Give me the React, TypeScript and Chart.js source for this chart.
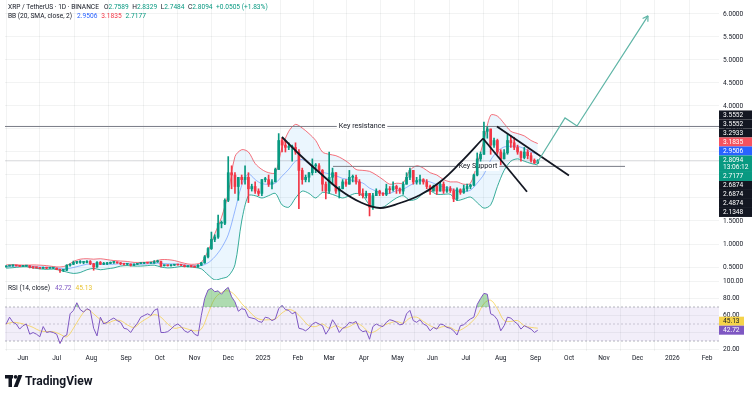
import React, { useEffect, useRef } from "react";
import { Chart, registerables } from "chart.js";

Chart.register(...registerables);

const FONT = "Roboto, 'Noto Sans', 'DejaVu Sans', sans-serif";
const FS = 6.6;
const TEXT = "#131722";
const UP = "#089981";
const DOWN = "#f23645";
const BLUE = "#2962ff";
const PURPLE = "#7e57c2";
const YELLOW = "#f5d34a";

// ---------- time ----------
const ORIGIN = "2024-06-01";
const dayOf = (iso: string) =>
  (Date.parse(iso + "T00:00:00Z") - Date.parse(ORIGIN + "T00:00:00Z")) / 86400000;

const VIEW_START_DAY = -16.05;
const VIEW_END_DAY = 620.6;

const monthTickDates = [
  "2024-06-01", "2024-07-01", "2024-08-01", "2024-09-01", "2024-10-01", "2024-11-01", "2024-12-01",
  "2025-01-01", "2025-02-01", "2025-03-01", "2025-04-01", "2025-05-01", "2025-06-01", "2025-07-01",
  "2025-08-01", "2025-09-01", "2025-10-01", "2025-11-01", "2025-12-01", "2026-01-01", "2026-02-01",
];
const monthTickLabels = [
  "Jun", "Jul", "Aug", "Sep", "Oct", "Nov", "Dec", "2025", "Feb", "Mar", "Apr", "May", "Jun", "Jul",
  "Aug", "Sep", "Oct", "Nov", "Dec", "2026", "Feb",
];

// ---------- candles (3-day) ----------
const CANDLE_START = "2024-05-17";
const CANDLE_STEP_DAYS = 3;
const opens = [
  0.50, 0.52, 0.53, 0.53, 0.525, 0.515, 0.52, 0.525, 0.495, 0.49,
  0.485, 0.47, 0.49, 0.475, 0.475, 0.475, 0.445, 0.43, 0.43, 0.54,
  0.56, 0.60, 0.60, 0.60, 0.60, 0.62, 0.57, 0.50, 0.60, 0.56,
  0.57, 0.58, 0.60, 0.60, 0.59, 0.57, 0.56, 0.56, 0.54, 0.56,
  0.575, 0.58, 0.59, 0.585, 0.585, 0.61, 0.62, 0.53, 0.535, 0.53,
  0.54, 0.55, 0.545, 0.54, 0.51, 0.52, 0.51, 0.50, 0.54, 0.59,
  0.72, 0.90, 1.10, 1.15, 1.45, 1.45, 1.95, 2.55, 2.50, 2.25,
  2.45, 2.40, 2.45, 2.20, 2.25, 2.15, 2.10, 2.40, 2.40, 2.30,
  2.35, 2.62, 3.25, 3.15, 3.10, 3.10, 3.10, 3.00, 2.60, 2.40,
  2.45, 2.55, 2.70, 2.70, 2.60, 2.30, 2.15, 2.45, 2.55, 2.15,
  2.20, 2.35, 2.30, 2.45, 2.45, 2.35, 2.10, 2.05, 2.10, 1.80,
  2.05, 2.15, 2.10, 2.08, 2.20, 2.18, 2.25, 2.20, 2.15, 2.30,
  2.45, 2.60, 2.35, 2.38, 2.40, 2.35, 2.25, 2.15, 2.25, 2.15,
  2.30, 2.15, 2.20, 2.16, 1.98, 2.18, 2.12, 2.20, 2.25, 2.28,
  2.50, 2.85, 2.95, 3.45, 3.50, 3.15, 3.25, 3.00, 2.85, 2.98,
  3.25, 3.20, 3.10, 3.00, 2.88, 3.00, 2.92, 2.82, 2.7589,
];
const highs = [
  0.53, 0.54, 0.535, 0.535, 0.53, 0.53, 0.53, 0.53, 0.50, 0.495,
  0.49, 0.50, 0.495, 0.485, 0.48, 0.48, 0.45, 0.44, 0.55, 0.57,
  0.63, 0.62, 0.64, 0.62, 0.64, 0.64, 0.58, 0.62, 0.62, 0.60,
  0.60, 0.61, 0.62, 0.61, 0.60, 0.58, 0.57, 0.57, 0.57, 0.58,
  0.59, 0.60, 0.60, 0.60, 0.64, 0.65, 0.63, 0.54, 0.54, 0.545,
  0.55, 0.555, 0.55, 0.545, 0.52, 0.53, 0.52, 0.55, 0.60, 0.75,
  0.92, 1.26, 1.20, 1.63, 1.50, 1.98, 2.90, 2.70, 2.55, 2.40,
  2.50, 2.70, 2.55, 2.30, 2.35, 2.20, 2.40, 2.45, 2.50, 2.40,
  2.65, 3.40, 3.30, 3.25, 3.20, 3.15, 3.20, 3.05, 2.65, 2.50,
  2.55, 2.85, 2.75, 2.75, 2.62, 2.35, 3.00, 2.65, 2.55, 2.25,
  2.40, 2.40, 2.60, 2.50, 2.50, 2.40, 2.20, 2.15, 2.10, 2.10,
  2.20, 2.17, 2.12, 2.30, 2.25, 2.35, 2.28, 2.22, 2.35, 2.55,
  2.65, 2.60, 2.45, 2.50, 2.42, 2.40, 2.28, 2.28, 2.28, 2.35,
  2.35, 2.25, 2.25, 2.20, 2.22, 2.20, 2.28, 2.30, 2.30, 2.52,
  2.98, 3.00, 3.65, 3.55, 3.50, 3.30, 3.28, 3.05, 3.05, 3.38,
  3.35, 3.32, 3.15, 3.02, 3.10, 3.05, 2.98, 2.85, 2.8329,
];
const lows = [
  0.50, 0.52, 0.51, 0.52, 0.51, 0.51, 0.515, 0.48, 0.47, 0.47,
  0.46, 0.47, 0.46, 0.47, 0.465, 0.44, 0.38, 0.40, 0.42, 0.52,
  0.55, 0.57, 0.58, 0.57, 0.59, 0.55, 0.43, 0.49, 0.55, 0.55,
  0.55, 0.57, 0.58, 0.58, 0.55, 0.54, 0.54, 0.52, 0.53, 0.55,
  0.57, 0.57, 0.58, 0.58, 0.58, 0.60, 0.50, 0.52, 0.52, 0.52,
  0.53, 0.54, 0.53, 0.50, 0.50, 0.50, 0.49, 0.49, 0.53, 0.58,
  0.70, 0.88, 1.05, 1.12, 1.35, 1.42, 1.92, 2.20, 2.10, 1.95,
  2.30, 2.30, 1.90, 2.15, 2.10, 2.05, 2.05, 2.35, 2.25, 2.20,
  2.35, 2.62, 3.00, 3.00, 3.05, 2.80, 2.95, 1.77, 2.30, 2.35,
  2.35, 2.50, 2.55, 2.55, 2.15, 1.98, 2.10, 2.30, 2.10, 2.00,
  2.20, 2.25, 2.30, 2.35, 2.30, 2.05, 2.00, 2.00, 1.61, 1.75,
  2.05, 2.05, 2.05, 2.05, 2.10, 2.15, 2.10, 2.10, 2.08, 2.30,
  2.40, 2.30, 2.30, 2.30, 2.30, 2.20, 2.08, 2.15, 2.08, 2.15,
  2.10, 2.12, 2.12, 1.92, 1.95, 2.08, 2.10, 2.15, 2.20, 2.26,
  2.48, 2.80, 2.95, 3.30, 2.95, 3.10, 2.95, 2.72, 2.85, 2.95,
  3.10, 3.05, 2.95, 2.80, 2.85, 2.85, 2.78, 2.75, 2.7484,
];
const closes = [
  0.52, 0.53, 0.53, 0.525, 0.515, 0.52, 0.525, 0.495, 0.49, 0.485,
  0.47, 0.49, 0.475, 0.475, 0.475, 0.445, 0.43, 0.43, 0.54, 0.56,
  0.60, 0.60, 0.60, 0.60, 0.62, 0.57, 0.50, 0.60, 0.56, 0.57,
  0.58, 0.60, 0.60, 0.59, 0.57, 0.56, 0.56, 0.54, 0.56, 0.575,
  0.58, 0.59, 0.585, 0.585, 0.61, 0.62, 0.53, 0.535, 0.53, 0.54,
  0.55, 0.545, 0.54, 0.51, 0.52, 0.51, 0.50, 0.54, 0.59, 0.72,
  0.90, 1.10, 1.15, 1.45, 1.45, 1.95, 2.55, 2.50, 2.25, 2.45,
  2.40, 2.45, 2.20, 2.25, 2.15, 2.10, 2.40, 2.40, 2.30, 2.35,
  2.62, 3.25, 3.15, 3.10, 3.10, 3.10, 3.00, 2.60, 2.40, 2.45,
  2.55, 2.70, 2.70, 2.60, 2.30, 2.15, 2.45, 2.55, 2.15, 2.20,
  2.35, 2.30, 2.45, 2.45, 2.35, 2.10, 2.05, 2.10, 1.80, 2.05,
  2.15, 2.10, 2.08, 2.20, 2.18, 2.25, 2.20, 2.15, 2.30, 2.45,
  2.60, 2.35, 2.38, 2.40, 2.35, 2.25, 2.15, 2.25, 2.15, 2.30,
  2.15, 2.20, 2.16, 1.98, 2.18, 2.12, 2.20, 2.25, 2.28, 2.50,
  2.85, 2.95, 3.45, 3.50, 3.15, 3.25, 3.00, 2.85, 2.98, 3.25,
  3.20, 3.10, 3.00, 2.88, 3.00, 2.92, 2.82, 2.76, 2.8094,
];
const priceChange = "+0.0505 (+1.83%)";

// ---------- Bollinger Bands (sampled every 6 days) ----------
const BB_START = "2024-05-17";
const BB_STEP_DAYS = 6;
const bbUpper = [
  0.545, 0.55, 0.545, 0.54, 0.545, 0.54, 0.53, 0.51, 0.50, 0.53,
  0.62, 0.67, 0.68, 0.67, 0.68, 0.66, 0.64, 0.63, 0.62, 0.60,
  0.60, 0.605, 0.62, 0.66, 0.66, 0.64, 0.60, 0.565, 0.56, 0.60,
  0.85, 1.22, 1.58, 2.10, 2.90, 3.05, 3.00, 2.75, 2.62, 2.55,
  2.55, 3.10, 3.45, 3.60, 3.52, 3.40, 3.25, 3.00, 2.95, 2.92,
  2.85, 2.75, 2.62, 2.60, 2.58, 2.50, 2.40, 2.30, 2.32, 2.33,
  2.60, 2.70, 2.65, 2.55, 2.50, 2.40, 2.35, 2.35, 2.30, 2.32,
  2.75, 3.25, 3.80, 3.78, 3.62, 3.45, 3.40, 3.35, 3.25, 3.1835,
];
const bbLower = [
  0.475, 0.485, 0.50, 0.505, 0.48, 0.46, 0.45, 0.455, 0.43, 0.39,
  0.36, 0.38, 0.44, 0.47, 0.44, 0.46, 0.48, 0.52, 0.53, 0.52,
  0.52, 0.53, 0.54, 0.50, 0.48, 0.49, 0.51, 0.505, 0.49, 0.46,
  0.33, 0.22, 0.25, 0.30, 0.55, 1.50, 2.05, 2.05, 2.00, 2.05,
  2.10, 1.85, 1.80, 2.00, 2.15, 2.10, 2.00, 2.12, 2.10, 2.05,
  2.00, 2.05, 2.10, 2.05, 1.85, 1.80, 1.80, 1.90, 2.00, 2.05,
  1.95, 1.98, 2.10, 2.15, 2.08, 2.08, 2.08, 1.95, 1.98, 2.02,
  1.90, 1.78, 1.85, 2.25, 2.60, 2.80, 2.85, 2.80, 2.75, 2.7177,
];

// ---------- RSI ----------
const RSI_START = "2024-05-17";
const RSI_STEP_DAYS = 3;
const rsi = [
  50, 58, 52, 50, 44, 48, 50, 38, 40, 38,
  35, 47, 40, 41, 40, 38, 27, 35, 37, 62,
  66, 75, 67, 64, 68, 66, 45, 36, 58, 50,
  52, 55, 57, 54, 52, 45, 44, 40, 46, 51,
  58, 60, 62, 60, 66, 68, 40, 40, 41, 44,
  48, 50, 47, 42, 40, 43, 38, 36, 60, 80,
  90, 92, 88, 89, 85, 90, 93, 82, 76, 65,
  68, 67, 58, 57, 56, 53, 52, 58, 57, 54,
  56, 68, 72, 67, 66, 62, 64, 45, 44, 42,
  45, 50, 52, 50, 48, 38, 44, 55, 49, 40,
  45, 47, 52, 51, 53, 44, 41, 42, 32, 47,
  50, 48, 47, 52, 55, 54, 52, 49, 50, 62,
  66, 54, 52, 55, 50, 48, 42, 46, 44, 50,
  49, 46, 45, 42, 37, 48, 49, 53, 56, 58,
  73, 80, 86, 85, 62, 60, 55, 42, 48, 58,
  57, 53, 50, 44, 48, 46, 44, 40, 42.72,
];
const RSI_MA_STEP_DAYS = 6;
const rsiMa = [
  50, 52, 51, 49, 46, 42, 41, 41, 38, 35,
  45, 58, 67, 62, 55, 51, 54, 54, 49, 46,
  52, 57, 61, 58, 50, 45, 46, 44, 42, 44,
  62, 80, 87, 89, 84, 74, 66, 58, 55, 55,
  56, 63, 67, 64, 56, 48, 47, 50, 45, 48,
  45, 47, 51, 47, 40, 42, 48, 51, 53, 51,
  57, 58, 53, 48, 45, 47, 46, 42, 45, 51,
  60, 74, 78, 68, 54, 53, 54, 48, 46, 45.13,
];
const rsiLevels = [70, 50, 30];

// ---------- drawings ----------
const resistancePrice = 3.5552;
const resistanceTextDay = 302.3;
const supportPrice = 2.6874;
const supportDays = [276.4, 536.8];
const supportTextDay = 405.7;
const cupDays = [230.9, 247, 264.8, 282.7, 300.5, 318.3, 336.2, 354, 371.8, 389.7, 410.2];
const cupPrices = [3.326, 2.935, 2.543, 2.174, 1.913, 1.783, 1.891, 2.065, 2.348, 2.761, 3.2933];
const handleADays = [410.2, 449.4];
const handleAPrices = [3.2933, 2.1348];
const handleBDays = [422.6, 486.8];
const handleBPrices = [3.5552, 2.4874];
const arrowDays = [458.3, 483.3, 494.0, 557.3];
const arrowPrices = [2.76, 3.74, 3.565, 5.96];

const countdown = "13:06:12";

// ---------- scale ranges ----------
const PRICE_MIN = 0.2174;
const PRICE_MAX = 6.3043;
const RSI_MIN = 18.24;
const RSI_MAX = 101.76;

// ---------- derived series ----------
const candleStartDay = dayOf(CANDLE_START);
const candleDays = closes.map((_, i) => candleStartDay + i * CANDLE_STEP_DAYS);
const candleColors = closes.map((c, i) => (c >= opens[i] ? UP : DOWN));
const bbDays = bbUpper.map((_, i) => dayOf(BB_START) + i * BB_STEP_DAYS);
const bbBasis = bbUpper.map((u, i) => (u + bbLower[i]) / 2);
const rsiDays = rsi.map((_, i) => dayOf(RSI_START) + i * RSI_STEP_DAYS);
const rsiMaDays = rsiMa.map((_, i) => dayOf(RSI_START) + i * RSI_MA_STEP_DAYS);
const monthTickDays = monthTickDates.map(dayOf);

const last = closes.length - 1;
const lastClose = closes[last];
const bbU = bbUpper[bbUpper.length - 1];
const bbL = bbLower[bbLower.length - 1];
const bbB = (bbU + bbL) / 2;

const pts = (xs: number[], ys: number[]) => xs.map((x, i) => ({ x, y: ys[i] }));
const hline = (v: number, from = VIEW_START_DAY, to = VIEW_END_DAY) => [
  { x: from, y: v },
  { x: to, y: v },
];

const priceTags: { value: number; bg: string; fg: string; extra?: string }[] = [
  { value: resistancePrice, bg: TEXT, fg: "#fff" },
  { value: handleBPrices[0], bg: TEXT, fg: "#fff" },
  { value: handleAPrices[0], bg: TEXT, fg: "#fff" },
  { value: bbU, bg: "#f7525f", fg: "#fff" },
  { value: bbB, bg: BLUE, fg: "#fff" },
  { value: lastClose, bg: UP, fg: "#fff", extra: countdown },
  { value: bbL, bg: UP, fg: "#fff" },
  { value: supportPrice, bg: TEXT, fg: "#fff" },
  { value: supportPrice, bg: TEXT, fg: "#fff" },
  { value: handleBPrices[1], bg: TEXT, fg: "#fff" },
  { value: handleAPrices[1], bg: TEXT, fg: "#fff" },
];

const overlayPlugin = {
  id: "overlay",
  afterDatasetDraw(chart: any, args: any) {
    const ds = chart.data.datasets[args.index];
    const ctx = chart.ctx;
    if (ds.lineText) {
      const xs = chart.scales.x;
      const ys = chart.scales[ds.yAxisID || "y"];
      const px = xs.getPixelForValue(ds.lineTextDay);
      const py = ys.getPixelForValue(ds.data[0].y);
      ctx.save();
      ctx.font = `7.2px ${FONT}`;
      const w = ctx.measureText(ds.lineText).width;
      ctx.fillStyle = "#fff";
      ctx.fillRect(px - w / 2 - 2, py - 4.5, w + 4, 9);
      ctx.fillStyle = TEXT;
      ctx.textAlign = "center";
      ctx.textBaseline = "middle";
      ctx.fillText(ds.lineText, px, py);
      ctx.restore();
    }
    if (ds.arrowHead) {
      const el = args.meta.data;
      const a = el[el.length - 2];
      const b = el[el.length - 1];
      const ang = Math.atan2(b.y - a.y, b.x - a.x);
      ctx.save();
      ctx.strokeStyle = ds.borderColor;
      ctx.lineWidth = ds.borderWidth;
      ctx.beginPath();
      for (const s of [-1, 1]) {
        ctx.moveTo(b.x, b.y);
        ctx.lineTo(b.x - 6 * Math.cos(ang + s * 0.55), b.y - 6 * Math.sin(ang + s * 0.55));
      }
      ctx.stroke();
      ctx.restore();
    }
  },
  afterDraw(chart: any) {
    const ctx = chart.ctx;
    const ys = chart.scales.y;
    const rs = chart.scales.yRsi;
    ctx.save();
    ctx.textBaseline = "middle";
    ctx.textAlign = "left";
    ctx.font = `${FS}px ${FONT}`;

    // header line 1
    let x = 8;
    const seg = (t: string, c: string, gap: number, yy: number) => {
      ctx.fillStyle = c;
      ctx.fillText(t, x, yy);
      x += ctx.measureText(t).width + gap;
    };
    seg("XRP / TetherUS · 1D · BINANCE", TEXT, 5, 7);
    const ohlc = [opens[last], highs[last], lows[last], closes[last]];
    ["O", "H", "L", "C"].forEach((l, i) => {
      seg(l, TEXT, 0, 7);
      seg(ohlc[i].toFixed(4), UP, 3.5, 7);
    });
    seg(priceChange, UP, 0, 7);

    // header line 2
    x = 8;
    seg("BB (20, SMA, close, 2)", TEXT, 5, 16.5);
    seg(bbB.toFixed(4), BLUE, 4, 16.5);
    seg(bbU.toFixed(4), DOWN, 4, 16.5);
    seg(bbL.toFixed(4), UP, 0, 16.5);

    // RSI title
    x = 8;
    const ry = rs.top + 8;
    seg("RSI (14, close)", TEXT, 5, ry);
    seg(rsi[rsi.length - 1].toFixed(2), PURPLE, 4, ry);
    seg(rsiMa[rsiMa.length - 1].toFixed(2), "#e8c332", 0, ry);

    // price axis tags
    const left = ys.left;
    const right = chart.width;
    let cy = ys.getPixelForValue(priceTags[0].value) - 16;
    for (const t of priceTags) {
      const h = t.extra ? 16.5 : 9;
      ctx.fillStyle = t.bg;
      ctx.fillRect(left, cy, right - left, h);
      ctx.fillStyle = t.fg;
      ctx.fillText(t.value.toFixed(4), left + 4, cy + 4.7);
      if (t.extra) ctx.fillText(t.extra, left + 4, cy + 12);
      cy += h;
    }

    // RSI tags
    let ry2 = rs.getPixelForValue(rsi[rsi.length - 1]) - 13.5;
    const rsiTags = [
      { v: rsiMa[rsiMa.length - 1], bg: YELLOW, fg: TEXT },
      { v: rsi[rsi.length - 1], bg: PURPLE, fg: "#fff" },
    ];
    for (const t of rsiTags) {
      ctx.fillStyle = t.bg;
      ctx.fillRect(left, ry2, 25, 9);
      ctx.fillStyle = t.fg;
      ctx.fillText(t.v.toFixed(2), left + 4, ry2 + 4.7);
      ry2 += 9;
    }

    // TradingView logo
    const ly = 381;
    ctx.fillStyle = TEXT;
    ctx.fillRect(5, ly - 6, 8, 3.5);
    ctx.fillRect(8.5, ly - 6, 3.5, 12);
    ctx.beginPath();
    ctx.arc(15.6, ly - 4.2, 1.9, 0, Math.PI * 2);
    ctx.fill();
    ctx.beginPath();
    ctx.moveTo(18.3, ly - 6);
    ctx.lineTo(22.3, ly - 6);
    ctx.lineTo(17.6, ly + 6);
    ctx.lineTo(13.6, ly + 6);
    ctx.closePath();
    ctx.fill();
    ctx.font = `bold 12px ${FONT}`;
    ctx.fillText("TradingView", 25, ly + 0.5);
    ctx.restore();
  },
};

const zeroPad = (s: any) => {
  s.paddingTop = 0;
  s.paddingBottom = 0;
  s.paddingLeft = 0;
  s.paddingRight = 0;
};

export default function App() {
  const ref = useRef<HTMLCanvasElement>(null);
  useEffect(() => {
    const lineBase = { type: "line", pointRadius: 0, borderWidth: 1, fill: false, xAxisID: "x" };
    const datasets: any[] = [];
    // RSI band (index 0..2)
    datasets.push({
      ...lineBase, yAxisID: "yRsi", data: hline(rsiLevels[0]), borderColor: "rgba(120,123,134,0.55)",
      borderDash: [2, 2], fill: { target: 2 }, backgroundColor: "rgba(126,87,194,0.1)", order: 20,
    });
    datasets.push({
      ...lineBase, yAxisID: "yRsi", data: hline(rsiLevels[1]), borderColor: "rgba(120,123,134,0.35)",
      borderDash: [2, 2], order: 20,
    });
    datasets.push({
      ...lineBase, yAxisID: "yRsi", data: hline(rsiLevels[2]), borderColor: "rgba(120,123,134,0.55)",
      borderDash: [2, 2], order: 20,
    });
    // RSI MA
    datasets.push({
      ...lineBase, yAxisID: "yRsi", data: pts(rsiMaDays, rsiMa), borderColor: "rgba(245,205,60,0.7)",
      tension: 0.35, order: 4,
    });
    // RSI line with overbought fill
    datasets.push({
      ...lineBase, yAxisID: "yRsi", data: pts(rsiDays, rsi), borderColor: PURPLE,
      fill: { target: { value: 70 }, above: "rgba(76,175,80,0.45)", below: "rgba(0,0,0,0)" }, order: 3,
    });
    datasets.push({
      ...lineBase, yAxisID: "yRsi", data: pts(rsiDays, rsi), borderColor: "rgba(0,0,0,0)",
      fill: { target: { value: 30 }, above: "rgba(0,0,0,0)", below: "rgba(242,54,69,0.35)" }, order: 3,
    });
    // Bollinger bands (index 6..8)
    datasets.push({
      ...lineBase, yAxisID: "y", data: pts(bbDays, bbLower), borderColor: "rgba(8,153,129,0.8)",
      tension: 0.3, order: 10,
    });
    datasets.push({
      ...lineBase, yAxisID: "y", data: pts(bbDays, bbUpper), borderColor: "rgba(242,54,69,0.7)",
      tension: 0.3, fill: { target: 6 }, backgroundColor: "rgba(33,150,243,0.09)", order: 10,
    });
    datasets.push({
      ...lineBase, yAxisID: "y", data: pts(bbDays, bbBasis), borderColor: "rgba(41,98,255,0.45)",
      tension: 0.3, order: 10,
    });
    // horizontal levels
    datasets.push({
      ...lineBase, yAxisID: "y", data: hline(lastClose), borderColor: "rgba(120,123,134,0.3)", order: 9,
    });
    datasets.push({
      ...lineBase, yAxisID: "y", data: hline(resistancePrice), borderColor: "#787b86", order: 8,
      lineText: "Key resistance", lineTextDay: resistanceTextDay,
    });
    datasets.push({
      ...lineBase, yAxisID: "y", data: hline(supportPrice, supportDays[0], supportDays[1]),
      borderColor: "#787b86", order: 8, lineText: "Key Support", lineTextDay: supportTextDay,
    });
    // candles
    datasets.push({
      type: "bar", xAxisID: "x", yAxisID: "y", grouped: false, barThickness: 1, borderWidth: 0,
      data: candleDays.map((d, i) => ({ x: d, y: [lows[i], highs[i]] })),
      backgroundColor: candleColors, order: 6,
    });
    datasets.push({
      type: "bar", xAxisID: "x", yAxisID: "y", grouped: false, barThickness: 2, minBarLength: 1,
      borderWidth: 0, data: candleDays.map((d, i) => ({ x: d, y: [opens[i], closes[i]] })),
      backgroundColor: candleColors, order: 5,
    });
    // pattern drawings
    datasets.push({
      ...lineBase, yAxisID: "y", data: pts(cupDays, cupPrices), borderColor: TEXT, borderWidth: 1.8,
      tension: 0.4, order: 2,
    });
    datasets.push({
      ...lineBase, yAxisID: "y", data: pts(handleADays, handleAPrices), borderColor: TEXT,
      borderWidth: 1.8, order: 2,
    });
    datasets.push({
      ...lineBase, yAxisID: "y", data: pts(handleBDays, handleBPrices), borderColor: TEXT,
      borderWidth: 1.8, order: 2,
    });
    datasets.push({
      ...lineBase, yAxisID: "y", data: pts(arrowDays, arrowPrices), borderColor: "#5fb5a6",
      borderWidth: 1.2, order: 1, arrowHead: true,
    });

    const tickFont = { family: FONT, size: FS };
    const chart = new Chart(ref.current as HTMLCanvasElement, {
      type: "line",
      data: { datasets },
      options: {
        responsive: false,
        animation: false,
        devicePixelRatio: 1,
        events: [],
        layout: { padding: { left: 5, right: 0, top: 0, bottom: 0 } },
        plugins: { legend: { display: false }, tooltip: { enabled: false } },
        scales: {
          x: {
            type: "linear",
            axis: "x",
            position: "bottom",
            min: VIEW_START_DAY,
            max: VIEW_END_DAY,
            offset: false,
            afterBuildTicks: (s: any) => {
              s.ticks = monthTickDays.map((d) => ({ value: d }));
            },
            afterFit: (s: any) => {
              s.height = 47;
              zeroPad(s);
            },
            ticks: {
              autoSkip: false,
              maxRotation: 0,
              padding: 3,
              color: TEXT,
              font: tickFont,
              callback: (_v: any, i: number) => monthTickLabels[i],
            },
            grid: { color: "rgba(42,46,57,0.06)", drawTicks: false },
            border: { display: false },
          },
          y: {
            type: "linear",
            axis: "y",
            position: "right",
            stack: "panes",
            stackWeight: 280,
            min: PRICE_MIN,
            max: PRICE_MAX,
            afterFit: (s: any) => {
              s.width = 33;
              zeroPad(s);
            },
            ticks: {
              autoSkip: false,
              stepSize: 0.5,
              includeBounds: false,
              padding: 4,
              color: TEXT,
              font: tickFont,
              callback: (v: any) => Number(v).toFixed(4),
            },
            grid: { color: "rgba(42,46,57,0.06)", drawTicks: false },
            border: { display: false },
          },
          yRsi: {
            type: "linear",
            axis: "y",
            position: "right",
            stack: "panes",
            stackWeight: 71,
            min: RSI_MIN,
            max: RSI_MAX,
            afterFit: (s: any) => {
              s.width = 33;
              zeroPad(s);
            },
            ticks: {
              autoSkip: false,
              stepSize: 20,
              includeBounds: false,
              padding: 4,
              color: TEXT,
              font: tickFont,
              callback: (v: any) => Number(v).toFixed(2),
            },
            grid: { color: "rgba(42,46,57,0.06)", drawTicks: false },
            border: { display: false },
          },
        },
      } as any,
      plugins: [overlayPlugin],
    } as any);
    return () => chart.destroy();
  }, []);

  return (
    <div style={{ position: "fixed", left: 0, top: 0, width: 752, height: 398, background: "#fff" }}>
      <canvas ref={ref} width={752} height={398} style={{ display: "block" }} />
    </div>
  );
}
